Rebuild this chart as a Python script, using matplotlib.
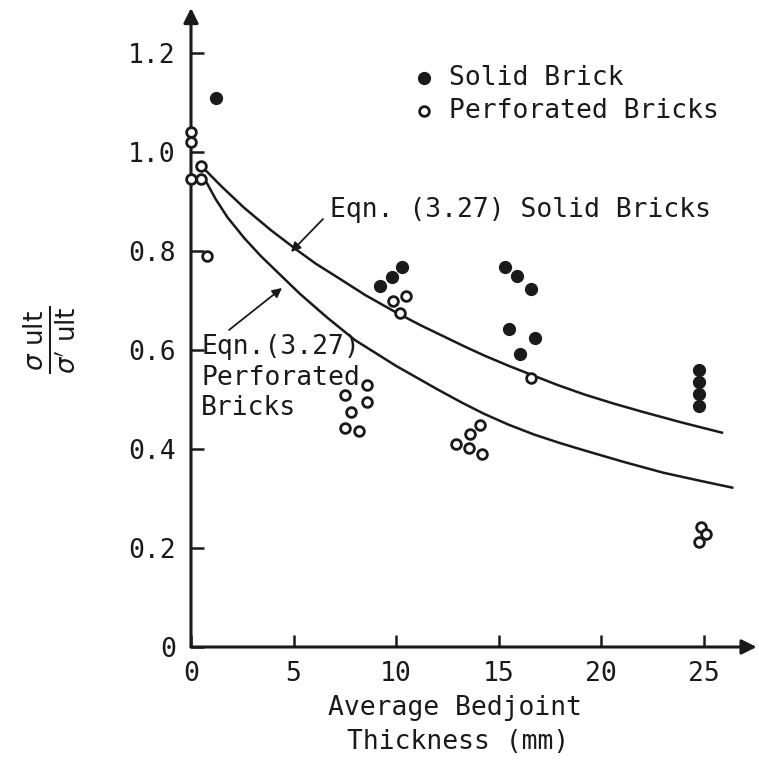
import matplotlib
matplotlib.use("Agg")
import matplotlib.pyplot as plt

# Measured ratios of ultimate strength, by bedjoint thickness (mm)
solid_t = [1.2, 9.2, 9.8, 10.3, 15.3, 15.9, 16.6, 15.5, 16.8, 16.05,
           24.8, 24.8, 24.8, 24.8]
solid_v = [1.11, 0.730, 0.748, 0.768, 0.767, 0.750, 0.724, 0.643, 0.624, 0.591,
           0.559, 0.535, 0.511, 0.486]

perf_t = [0.0, 0.0, 0.0, 0.5, 0.5, 0.8,
          9.85, 10.5, 10.2,
          7.5, 8.6, 8.6, 7.8, 7.5, 8.2,
          16.6,
          14.1, 13.6, 12.95, 13.55, 14.2,
          24.9, 25.1, 24.8]
perf_v = [1.04, 1.02, 0.945, 0.945, 0.972, 0.79,
          0.700, 0.710, 0.675,
          0.510, 0.530, 0.494, 0.474, 0.442, 0.436,
          0.544,
          0.448, 0.430, 0.410, 0.402, 0.389,
          0.242, 0.228, 0.213]

# Eqn. (3.27) curves
eq_solid_t = [0.45, 1.5, 2.6, 3.9, 5.2, 6.1, 7.1, 8.5, 10.0, 11.2, 12.4, 13.4,
              14.35, 15.5, 16.6, 17.9, 19.2, 20.6, 21.95, 23.9, 25.9]
eq_solid_v = [0.974, 0.930, 0.887, 0.842, 0.801, 0.774, 0.748, 0.711, 0.676,
              0.650, 0.626, 0.606, 0.588, 0.568, 0.550, 0.529, 0.510, 0.492,
              0.476, 0.454, 0.433]

eq_perf_t = [0.7, 1.2, 1.78, 2.6, 3.4, 4.4, 5.3, 6.6, 8.0, 10.0, 12.0, 13.2,
             14.3, 15.5, 16.75, 18.0, 19.2, 21.1, 23.05, 24.7, 26.4]
eq_perf_v = [0.943, 0.905, 0.868, 0.826, 0.790, 0.750, 0.714, 0.667, 0.620,
             0.568, 0.521, 0.494, 0.471, 0.449, 0.429, 0.412, 0.397, 0.374,
             0.352, 0.337, 0.322]

x_ticks = [0, 5, 10, 15, 20, 25]
y_ticks = [0, 0.2, 0.4, 0.6, 0.8, 1.0, 1.2]
y_tick_labels = ["0", "0.2", "0.4", "0.6", "0.8", "1.0", "1.2"]

W, H = 759, 763
FONT = "DejaVu Sans Mono"
INK = "#1a1a1a"


def fx(x):
    return x / W


def fy(y):
    return 1 - y / H


fig = plt.figure(figsize=(W / 100, H / 100), dpi=100)
x0, y0 = 191, 647
px_per_mm, px_per_unit = 20.5, 495
right, top = 751, 8
ax = fig.add_axes([fx(x0), fy(y0), (right - x0) / W, (y0 - top) / H])
ax.set_xlim(0, (right - x0) / px_per_mm)
ax.set_ylim(0, (y0 - top) / px_per_unit)

for s in ax.spines.values():
    s.set_visible(False)

# axes drawn as arrows
ax.annotate("", xy=(0, 1), xytext=(0, 0), xycoords="axes fraction",
            arrowprops=dict(arrowstyle="-|>", lw=2.2, color=INK,
                            mutation_scale=22, shrinkA=0, shrinkB=0))
ax.annotate("", xy=(1.01, 0), xytext=(0, 0), xycoords="axes fraction",
            arrowprops=dict(arrowstyle="-|>", lw=2.2, color=INK,
                            mutation_scale=22, shrinkA=0, shrinkB=0))

ax.set_xticks(x_ticks)
ax.set_xticklabels([str(t) for t in x_ticks])
ax.set_yticks(y_ticks)
ax.set_yticklabels(y_tick_labels)
ax.tick_params(axis="both", direction="in", length=9, width=1.8, colors=INK,
               labelsize=19)
ax.tick_params(axis="x", pad=10)
ax.tick_params(axis="y", pad=11)
for lab in ax.get_xticklabels() + ax.get_yticklabels():
    lab.set_family(FONT)

ax.plot(eq_solid_t, eq_solid_v, color=INK, lw=1.8, clip_on=False,
        solid_joinstyle="round")
ax.plot(eq_perf_t, eq_perf_v, color=INK, lw=1.8, clip_on=False,
        solid_joinstyle="round")

ax.plot(solid_t, solid_v, "o", ms=8.5, color=INK, mec=INK,
        clip_on=False, zorder=3)
ax.plot(perf_t, perf_v, "o", ms=7, mfc="white", mec=INK, mew=2,
        clip_on=False, zorder=3)

# legend
fig.add_artist(plt.Line2D([fx(424)], [fy(78)], marker="o", ms=8.5,
                          color=INK, ls=""))
fig.add_artist(plt.Line2D([fx(424)], [fy(111)], marker="o", ms=7, mfc="white",
                          mec=INK, mew=2, ls=""))
fig.text(fx(449), fy(78), "Solid Brick", family=FONT, fontsize=19,
         va="center", ha="left", color=INK)
fig.text(fx(449), fy(111), "Perforated Bricks", family=FONT, fontsize=19,
         va="center", ha="left", color=INK)

# curve annotations
fig.text(fx(330), fy(210), "Eqn. (3.27) Solid Bricks", family=FONT, fontsize=19,
         va="center", ha="left", color=INK)
for txt, yy in [("Eqn.(3.27)", 347), ("Perforated", 378), ("Bricks", 408)]:
    fig.text(fx(201), fy(yy), txt, family=FONT, fontsize=19,
             va="center", ha="left", color=INK)


def to_data(x, y):
    return (x - x0) / px_per_mm, (y0 - y) / px_per_unit


ax.annotate("", xy=to_data(291, 252), xytext=to_data(323, 219),
            arrowprops=dict(arrowstyle="-|>", lw=1.3, color=INK,
                            mutation_scale=14, shrinkA=0, shrinkB=0))
ax.annotate("", xy=to_data(282, 288), xytext=to_data(229, 330),
            arrowprops=dict(arrowstyle="-|>", lw=1.3, color=INK,
                            mutation_scale=14, shrinkA=0, shrinkB=0))

# axis titles
fig.text(fx(50), fy(340), r"$\frac{\sigma\ \mathrm{ult}}{\sigma^{\prime}\ \mathrm{ult}}$",
         rotation=90, fontsize=27, va="center", ha="center", color=INK)
fig.text(fx(455), fy(708), "Average Bedjoint", family=FONT, fontsize=19,
         va="center", ha="center", color=INK)
fig.text(fx(458), fy(742), "Thickness (mm)", family=FONT, fontsize=19,
         va="center", ha="center", color=INK)

fig.savefig("out.png", dpi=100, facecolor="white")
